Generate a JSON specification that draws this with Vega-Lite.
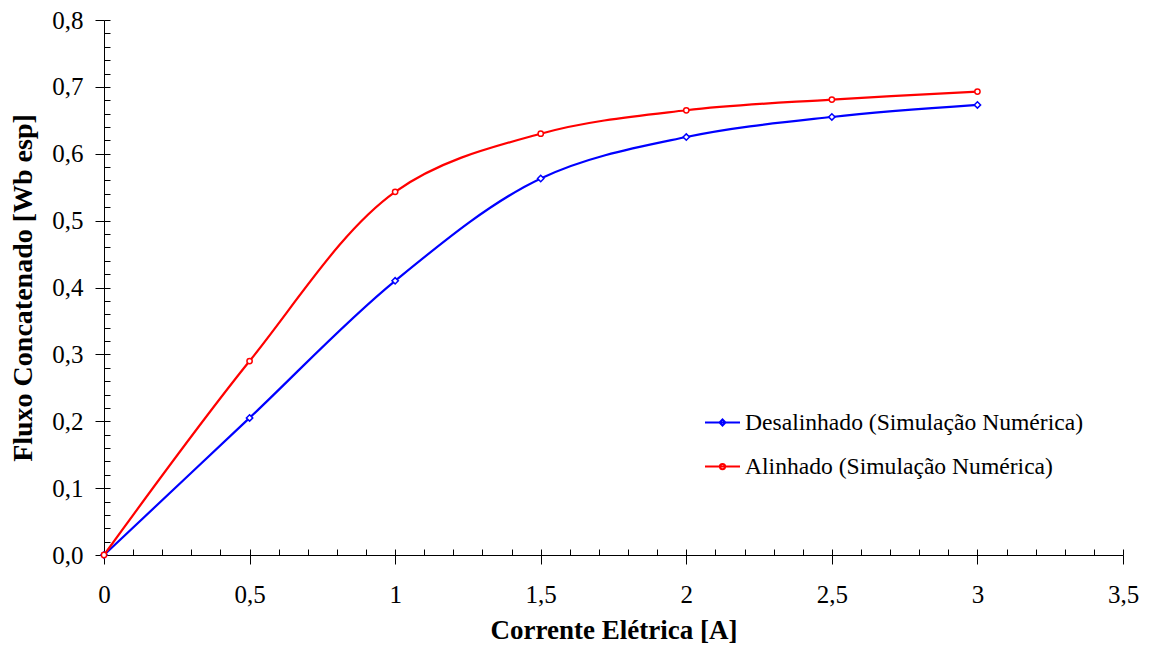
{
  "$schema": "https://vega.github.io/schema/vega-lite/v6.json",
  "width": 1019,
  "height": 535,
  "autosize": {"type": "none"},
  "padding": {"left": 104, "top": 20, "right": 29, "bottom": 97},
  "background": "white",
  "config": {
    "view": {"stroke": null},
    "font": "Liberation Serif",
    "axis": {"labelFont": "Liberation Serif", "titleFont": "Liberation Serif", "domainColor": "#000", "tickColor": "#000", "labelColor": "#000", "titleColor": "#000", "grid": false}
  },
  "data": {
    "values": [
      {"i": 0, "f": 0.0, "s": "Desalinhado (Simulação Numérica)"},
      {"i": 0.5, "f": 0.205, "s": "Desalinhado (Simulação Numérica)"},
      {"i": 1.0, "f": 0.41, "s": "Desalinhado (Simulação Numérica)"},
      {"i": 1.5, "f": 0.563, "s": "Desalinhado (Simulação Numérica)"},
      {"i": 2.0, "f": 0.625, "s": "Desalinhado (Simulação Numérica)"},
      {"i": 2.5, "f": 0.655, "s": "Desalinhado (Simulação Numérica)"},
      {"i": 3.0, "f": 0.673, "s": "Desalinhado (Simulação Numérica)"},
      {"i": 0, "f": 0.0, "s": "Alinhado (Simulação Numérica)"},
      {"i": 0.5, "f": 0.29, "s": "Alinhado (Simulação Numérica)"},
      {"i": 1.0, "f": 0.543, "s": "Alinhado (Simulação Numérica)"},
      {"i": 1.5, "f": 0.63, "s": "Alinhado (Simulação Numérica)"},
      {"i": 2.0, "f": 0.665, "s": "Alinhado (Simulação Numérica)"},
      {"i": 2.5, "f": 0.681, "s": "Alinhado (Simulação Numérica)"},
      {"i": 3.0, "f": 0.693, "s": "Alinhado (Simulação Numérica)"}
    ]
  },
  "resolve": {"axis": {"x": "independent", "y": "independent"}},
  "layer": [
    {
      "mark": {"type": "line", "interpolate": "catmull-rom", "strokeWidth": 2.2},
      "encoding": {
        "x": {"field": "i", "type": "quantitative", "scale": {"domain": [0, 3.5], "nice": false, "zero": false},
          "axis": {"orient": "bottom", "title": "Corrente Elétrica [A]", "values": [0, 0.5, 1, 1.5, 2, 2.5, 3, 3.5], "labelExpr": "replace('' + datum.value, '.', ',')", "labelFontSize": 25, "labelPadding": 18, "tickSize": 9, "titleFontSize": 27, "titleFontWeight": "bold", "titlePadding": 10, "labelFlush": false}},
        "y": {"field": "f", "type": "quantitative", "scale": {"domain": [0, 0.8], "nice": false},
          "axis": {"orient": "left", "title": "Fluxo Concatenado [Wb esp]", "values": [0, 0.1, 0.2, 0.3, 0.4, 0.5, 0.6, 0.7, 0.8], "labelExpr": "replace(format(datum.value, '.1f'), '.', ',')", "labelFontSize": 25, "labelPadding": 12, "tickSize": 9, "titleFontSize": 28, "titleFontWeight": "bold", "titlePadding": 14, "labelFlush": false}},
        "color": {"field": "s", "type": "nominal",
          "scale": {"domain": ["Desalinhado (Simulação Numérica)", "Alinhado (Simulação Numérica)"], "range": ["#0000ff", "#ff0000"]},
          "legend": {"orient": "none", "legendX": 600, "legendY": 384, "title": null, "symbolType": "M-1,0H1M0,-0.17L0.17,0L0,0.17L-0.17,0Z", "symbolSize": 1225, "symbolStrokeWidth": 2, "symbolFillColor": "white", "labelFont": "Liberation Serif", "labelFontSize": 23.6, "labelColor": "#000", "rowPadding": 13, "labelOffset": 4, "labelLimit": 600,
            "encode": {"symbols": {"update": {"fill": {"value": "white"}, "shape": {"signal": "datum.label == 'Alinhado (Simulação Numérica)' ? 'M-1,0H1M0.15,0A0.15,0.15,0,1,1,-0.15,0A0.15,0.15,0,1,1,0.15,0Z' : 'M-1,0H1M0,-0.17L0.17,0L0,0.17L-0.17,0Z'"}}}}}
        }
      }
    },
    {
      "transform": [{"filter": "datum.s == 'Desalinhado (Simulação Numérica)'"}],
      "mark": {"type": "point", "shape": "diamond", "filled": true, "fill": "white", "stroke": "#0000ff", "strokeWidth": 1.5, "opacity": 1, "size": 40},
      "encoding": {
        "x": {"field": "i", "type": "quantitative", "scale": {"domain": [0, 3.5], "nice": false, "zero": false},
          "axis": {"orient": "bottom", "title": null, "labels": false, "domain": false, "tickSize": -6, "values": [0,0.1,0.2,0.3,0.4,0.5,0.6,0.7,0.8,0.9,1,1.1,1.2,1.3,1.4,1.5,1.6,1.7,1.8,1.9,2,2.1,2.2,2.3,2.4,2.5,2.6,2.7,2.8,2.9,3,3.1,3.2,3.3,3.4,3.5]}},
        "y": {"field": "f", "type": "quantitative", "scale": {"domain": [0, 0.8], "nice": false},
          "axis": {"orient": "left", "title": null, "labels": false, "domain": false, "tickSize": -6, "values": [0,0.02,0.04,0.06,0.08,0.1,0.12,0.14,0.16,0.18,0.2,0.22,0.24,0.26,0.28,0.3,0.32,0.34,0.36,0.38,0.4,0.42,0.44,0.46,0.48,0.5,0.52,0.54,0.56,0.58,0.6,0.62,0.64,0.66,0.68,0.7,0.72,0.74,0.76,0.78,0.8]}}
      }
    },
    {
      "transform": [{"filter": "datum.s == 'Alinhado (Simulação Numérica)'"}],
      "mark": {"type": "point", "shape": "circle", "filled": true, "fill": "white", "stroke": "#ff0000", "strokeWidth": 1.5, "opacity": 1, "size": 28},
      "encoding": {
        "x": {"field": "i", "type": "quantitative", "scale": {"domain": [0, 3.5], "nice": false, "zero": false}, "axis": null},
        "y": {"field": "f", "type": "quantitative", "scale": {"domain": [0, 0.8], "nice": false}, "axis": null}
      }
    }
  ]
}
